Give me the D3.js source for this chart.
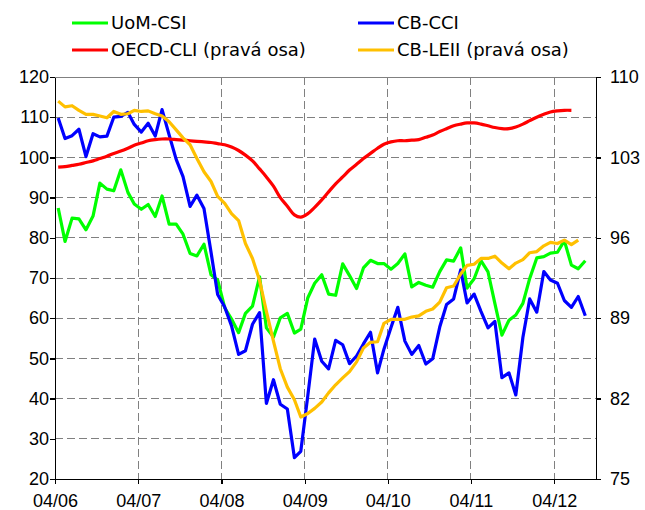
<!DOCTYPE html>
<html lang="cs">
<head>
  <meta charset="UTF-8">
  <title>Indikátory důvěry</title>
  <style>
    body { margin: 0; background: #fff; }
    svg { font-family: "DejaVu Sans", Verdana, sans-serif; }
    .axis path, .axis line { stroke: #000; stroke-width: 1.3; shape-rendering: crispEdges; }
    .axis text { font-size: 18px; fill: #000; }
    .grid line { stroke: #808080; stroke-width: 1; stroke-dasharray: 8,4; shape-rendering: crispEdges; }
    .legend text { font-size: 18px; fill: #000; }
  </style>
</head>
<body>
  <script src="https://cdn.jsdelivr.net/npm/d3@7"></script>
  <script>
    // měsíční řady 04/2006 - 08/2012
    var uomCsi = [87.4, 79.1, 84.9, 84.7, 82.0, 85.4, 93.6, 92.1, 91.7,
      96.9, 91.3, 88.4, 87.1, 88.3, 85.3, 90.4, 83.4, 83.4, 80.9, 76.1, 75.5,
      78.4, 70.8, 69.5, 62.6, 59.8, 56.4, 61.2, 63.0, 70.3, 57.6, 55.3, 60.1,
      61.2, 56.3, 57.3, 65.1, 68.7, 70.8, 66.0, 65.7, 73.5, 70.6, 67.4, 72.5,
      74.4, 73.6, 73.6, 72.2, 73.6, 76.0, 67.8, 68.9, 68.2, 67.7, 71.6, 74.5,
      74.2, 77.5, 67.5, 69.8, 74.3, 71.5, 63.7, 55.8, 59.5, 60.8, 63.7, 69.9,
      75.0, 75.3, 76.2, 76.4, 79.3, 73.2, 72.3, 74.3];
    var cbCci = [109.8, 104.7, 105.4, 107.0, 100.2, 105.9, 105.1, 105.3, 110.0,
      110.2, 111.2, 108.2, 106.3, 108.5, 105.3, 111.9, 105.6, 99.5, 95.2, 87.8, 90.6,
      87.3, 76.4, 65.9, 62.8, 58.1, 51.0, 51.9, 58.5, 61.4, 38.8, 44.7, 38.6,
      37.4, 25.3, 26.9, 40.8, 54.8, 49.3, 47.4, 54.5, 53.4, 48.7, 50.6, 53.6,
      56.5, 46.4, 52.3, 57.7, 62.7, 54.3, 51.0, 53.2, 48.6, 49.9, 57.8, 63.4,
      64.8, 72.0, 63.8, 66.0, 61.7, 57.6, 59.2, 45.2, 46.4, 40.9, 55.2, 64.8,
      61.5, 71.6, 69.5, 68.7, 64.4, 62.7, 65.4, 60.6];
    // pravá osa
    var oecdCli = [102.15, 102.2, 102.3, 102.4, 102.55, 102.7, 102.9, 103.1, 103.35,
      103.55, 103.8, 104.05, 104.25, 104.45, 104.55, 104.6, 104.6, 104.55, 104.5, 104.45, 104.4,
      104.35, 104.3, 104.2, 104.1, 103.9, 103.6, 103.2, 102.7, 102.0, 101.3, 100.5, 99.5,
      98.75, 98.0, 97.8, 98.1, 98.65, 99.3, 100.0, 100.7, 101.3, 101.9, 102.4, 102.9,
      103.35, 103.8, 104.15, 104.35, 104.45, 104.45, 104.5, 104.55, 104.75, 104.95, 105.25, 105.5,
      105.75, 105.9, 106.0, 106.0, 105.9, 105.75, 105.6, 105.5, 105.5, 105.65, 105.9, 106.2,
      106.5, 106.75, 106.95, 107.05, 107.1, 107.1];
    var cbLeii = [107.9, 107.4, 107.5, 107.1, 106.75, 106.75, 106.6, 106.45, 107.0,
      106.75, 106.8, 107.1, 107.0, 107.05, 106.8, 106.6, 106.1, 105.4, 104.7, 104.1, 102.9,
      101.75, 100.9, 99.6, 99.0, 98.1, 97.5, 95.5, 94.2, 92.3, 89.6, 87.0, 84.6,
      83.0, 81.9, 80.4, 80.7, 81.15, 81.7, 82.5, 83.2, 83.8, 84.35, 85.2, 86.4,
      86.9, 86.95, 88.55, 88.9, 88.9, 88.9, 89.1, 89.2, 89.6, 89.8, 90.4, 91.65,
      91.8, 92.85, 93.6, 93.7, 94.2, 94.2, 94.4, 93.8, 93.3, 93.8, 94.1, 94.7,
      94.8, 95.3, 95.6, 95.5, 95.8, 95.4, 95.8];

    var xTickLabels = ["04/06", "04/07", "04/08", "04/09", "04/10", "04/11", "04/12"];
    var leftTicks = [20, 30, 40, 50, 60, 70, 80, 90, 100, 110, 120];
    var rightTicks = [75, 82, 89, 96, 103, 110];

    var series = [
      {name: "UoM-CSI", values: uomCsi, color: "#00ff00", axis: "left"},
      {name: "CB-CCI", values: cbCci, color: "#0000ff", axis: "left"},
      {name: "OECD-CLI (pravá osa)", values: oecdCli, color: "#ff0000", axis: "right", smooth: true},
      {name: "CB-LEII (pravá osa)", values: cbLeii, color: "#ffc000", axis: "right"}
    ];

    var width = 645, height = 510;
    var margin = {left: 55, right: 49, top: 77, bottom: 31};

    var svg = d3.select("body").append("svg").attr("width", width).attr("height", height);

    var parse = d3.timeParse("%m/%y");
    var x = d3.scaleTime()
      .domain([new Date(2006, 3, 1), new Date(2012, 9, 1)])
      .range([margin.left, width - margin.right]);
    var yL = d3.scaleLinear().domain([20, 120]).range([height - margin.bottom, margin.top]);
    var yR = d3.scaleLinear().domain([75, 110]).range([height - margin.bottom, margin.top]);

    // bod každého měsíce leží uprostřed měsíce
    function monthDate(i) { return new Date(2006, 3 + i, 15); }

    // mřížka
    var grid = svg.append("g").attr("class", "grid");
    grid.selectAll(".h").data(leftTicks.slice(1, -1)).enter().append("line")
      .attr("x1", x.range()[0]).attr("x2", x.range()[1])
      .attr("y1", function(d) { return yL(d); }).attr("y2", function(d) { return yL(d); });
    grid.selectAll(".v").data(xTickLabels.slice(1)).enter().append("line")
      .attr("x1", function(d) { return x(parse(d)); }).attr("x2", function(d) { return x(parse(d)); })
      .attr("y1", yL(120)).attr("y2", yL(20));
    svg.append("line")
      .attr("x1", x.range()[0]).attr("x2", x.range()[1])
      .attr("y1", yL(120)).attr("y2", yL(120))
      .attr("stroke", "#808080").attr("shape-rendering", "crispEdges");

    // osy
    svg.append("g").attr("class", "axis")
      .attr("transform", "translate(" + margin.left + ",0)")
      .call(d3.axisLeft(yL).tickValues(leftTicks).tickSize(5).tickPadding(1).tickSizeOuter(0));
    svg.append("g").attr("class", "axis")
      .attr("transform", "translate(" + (width - margin.right) + ",0)")
      .call(d3.axisRight(yR).tickValues(rightTicks).tickSize(5).tickPadding(9).tickSizeOuter(0));
    svg.append("g").attr("class", "axis")
      .attr("transform", "translate(0," + (height - margin.bottom) + ")")
      .call(d3.axisBottom(x).tickValues(xTickLabels.map(parse))
        .tickFormat(d3.timeFormat("%m/%y")).tickSize(5).tickPadding(10).tickSizeOuter(0));

    // čáry
    series.forEach(function(s) {
      var yScale = s.axis == "left" ? yL : yR;
      var line = d3.line()
        .x(function(d, i) { return x(monthDate(i)); })
        .y(function(d) { return yScale(d); })
        .curve(s.smooth ? d3.curveCatmullRom : d3.curveLinear);
      svg.append("path").datum(s.values)
        .attr("d", line)
        .attr("fill", "none")
        .attr("stroke", s.color)
        .attr("stroke-width", 3.2)
        .attr("stroke-linejoin", "round");
    });

    // legenda
    var legendPos = [[72, 23], [358, 23], [72, 50], [358, 50]];
    var legend = svg.append("g").attr("class", "legend")
      .selectAll("g").data(series).enter().append("g")
      .attr("transform", function(d, i) { return "translate(" + legendPos[i][0] + "," + legendPos[i][1] + ")"; });
    legend.append("line").attr("x1", 0).attr("x2", 36)
      .attr("stroke", function(d) { return d.color; }).attr("stroke-width", 3.2);
    legend.append("text").attr("x", 39).attr("dy", "0.36em")
      .text(function(d) { return d.name; });
  </script>
</body>
</html>
